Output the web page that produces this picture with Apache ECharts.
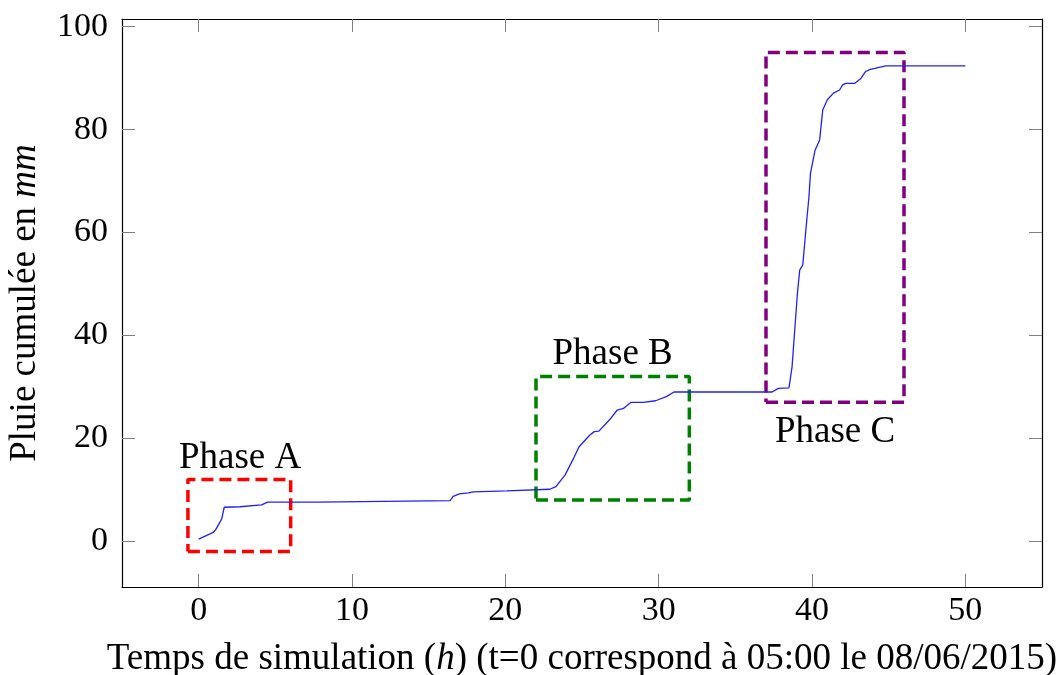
<!DOCTYPE html>
<html>
<head>
<meta charset="utf-8">
<script src="https://cdn.jsdelivr.net/npm/echarts@6/dist/echarts.min.js"></script>
<style>
  html, body { margin: 0; padding: 0; background: #fff; }
  #container { width: 1063px; height: 675px; }
</style>
</head>
<body>
<div id="container"></div>
<script>
// cumulative rain
var hours = [0, 0.95, 1.1, 1.5, 1.67, 2.7, 4.1, 4.5, 7.8, 7.9, 16.4, 16.6, 17.0, 17.6, 17.9, 20.1,
    22.9, 23.3, 23.9, 24.4, 24.8, 25.5, 25.8, 26.1, 26.8, 27.3, 27.7, 28.2, 29.0, 29.8, 30.5, 31.0,
    37.4, 37.8, 38.5, 38.7, 39.05, 39.2, 39.4, 39.6, 39.8, 39.9, 40.2, 40.5, 40.7, 41.0, 41.4, 41.8,
    42.0, 42.2, 42.8, 43.2, 43.5, 43.8, 44.1, 44.8, 50];
var rain = [0.4, 1.7, 2.2, 4.3, 6.6, 6.7, 7.05, 7.6, 7.6, 7.8, 7.9, 8.7, 9.2, 9.4, 9.6, 9.8,
    10.1, 10.6, 12.9, 15.8, 18.3, 20.6, 21.3, 21.4, 23.6, 25.5, 25.8, 27.0, 27.0, 27.3, 28.1, 29.0,
    29.0, 29.7, 29.8, 33.9, 48.2, 52.7, 53.7, 60.5, 66.9, 71.5, 76.0, 78.0, 83.8, 85.8, 87.1, 87.7,
    88.7, 89.0, 89.0, 90.0, 91.3, 91.7, 91.9, 92.4, 92.4];

var xTicks = [0, 10, 20, 30, 40, 50];
var yTicks = [0, 20, 40, 60, 80, 100];

// phase boxes: [xmin, xmax, ymin, ymax]
var boxA = [-0.7, 6, -2, 12];
var boxB = [22, 32, 8, 32];
var boxC = [37, 46, 27, 95];
var phaseNames = ['Phase A', 'Phase B', 'Phase C'];
var phasePos = [[2.7, 16.2], [27.0, 36.4], [41.5, 21.2]];

var font = 'Liberation Serif';
var fsTick = 34;
var fsText = 37;

function rect(b) {
    return [[b[0], b[2]], [b[1], b[2]], [b[1], b[3]], [b[0], b[3]], [b[0], b[2]]];
}

function boxSeries(b, color) {
    return {
        type: 'line',
        data: rect(b),
        symbol: 'none',
        silent: true,
        xAxisIndex: 0, yAxisIndex: 0,
        lineStyle: { color: color, width: 3.5, type: [12, 6] },
        z: 3
    };
}

var myChart = echarts.init(document.getElementById('container'));

var tickStyle = { color: '#808080', width: 1 };
var frameLine = { show: true, onZero: false, lineStyle: { color: '#000', width: 1.2 } };
var italic = { i: { fontStyle: 'italic', fontFamily: font, fontSize: fsText, color: '#000' } };

myChart.setOption({
    animation: false,
    grid: { left: 122, right: 21, top: 19, bottom: 88, containLabel: false, outerBoundsMode: 'none' },
    xAxis: [{
        type: 'value', min: -5, max: 55,
        axisLine: frameLine,
        axisTick: { show: true, inside: true, length: 13, lineStyle: tickStyle, customValues: xTicks },
        axisLabel: { customValues: xTicks, color: '#000', fontFamily: font, fontSize: fsTick, margin: 7 },
        splitLine: { show: false },
        name: 'Temps de simulation ({i|h}) (t=0 correspond à 05:00 le 08/06/2015)',
        nameLocation: 'middle', nameGap: 54,
        nameTextStyle: { color: '#000', fontFamily: font, fontSize: fsText, rich: italic }
    }, {
        type: 'value', min: -5, max: 55, position: 'top',
        axisLine: frameLine,
        axisTick: { show: true, inside: true, length: 13, lineStyle: tickStyle, customValues: xTicks },
        axisLabel: { show: false },
        splitLine: { show: false }
    }],
    yAxis: [{
        type: 'value', min: -8.9, max: 101.5,
        axisLine: frameLine,
        axisTick: { show: true, inside: true, length: 13, lineStyle: tickStyle, customValues: yTicks },
        axisLabel: { customValues: yTicks, color: '#000', fontFamily: font, fontSize: fsTick, margin: 14 },
        splitLine: { show: false },
        name: 'Pluie cumulée en {i|mm}',
        nameLocation: 'middle', nameGap: 78,
        nameTextStyle: { color: '#000', fontFamily: font, fontSize: fsText, rich: italic }
    }, {
        type: 'value', min: -8.9, max: 101.5, position: 'right',
        axisLine: frameLine,
        axisTick: { show: true, inside: true, length: 13, lineStyle: tickStyle, customValues: yTicks },
        axisLabel: { show: false },
        splitLine: { show: false }
    }],
    series: [
        {
            type: 'line',
            data: hours.map(function (h, i) { return [h, rain[i]]; }),
            symbol: 'none',
            lineStyle: { color: '#2020ff', width: 1.3 },
            z: 4
        },
        boxSeries(boxA, '#ff0000'),
        boxSeries(boxB, '#008000'),
        boxSeries(boxC, '#800080'),
        {
            type: 'scatter',
            symbolSize: 1,
            itemStyle: { color: '#000', opacity: 0 },
            data: phasePos.map(function (p, i) { return [p[0], p[1], phaseNames[i]]; }),
            label: {
                show: true, position: 'inside',
                formatter: function (p) { return p.value[2]; },
                color: '#000', opacity: 1, fontFamily: font, fontSize: fsText
            },
            silent: true,
            z: 5
        }
    ]
});
</script>
</body>
</html>
